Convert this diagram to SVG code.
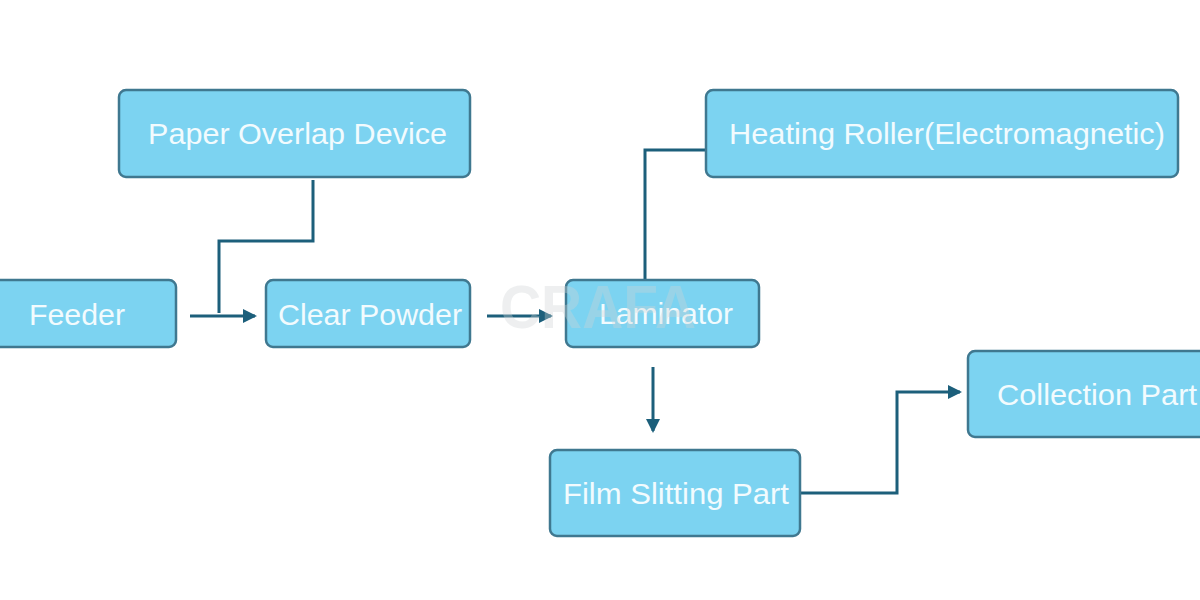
<svg xmlns="http://www.w3.org/2000/svg" width="1200" height="600" viewBox="0 0 1200 600">
<defs>
<style>
.box{fill:#7cd3f1;stroke:#3f7890;stroke-width:2.5}
.lbl{font-family:"Liberation Sans",Arial,sans-serif;font-size:29px;fill:#f2fbfe}
.con{fill:none;stroke:#1c5f7b;stroke-width:3}
</style>
<marker id="ah" markerWidth="14" markerHeight="16" refX="12" refY="8" orient="auto" markerUnits="userSpaceOnUse">
<path d="M0,1 L14,8 L0,15 Z" fill="#1c5f7b"/>
</marker>
</defs>
<rect width="1200" height="600" fill="#ffffff"/>
<g id="connectors">
<path class="con" d="M190,316 H255" marker-end="url(#ah)"/>
<path class="con" d="M313,180 V241 H219 V313"/>
<path class="con" d="M487,316 H551" marker-end="url(#ah)" stroke="#3a7c96"/>
<path class="con" d="M706,150 H645 V280"/>
<path class="con" d="M653,367 V431" marker-end="url(#ah)"/>
<path class="con" d="M800,493 H897 V392 H960" marker-end="url(#ah)"/>
</g>
<g id="paper-overlap">
<rect class="box" x="119" y="90" width="351" height="87" rx="7"/>
<text class="lbl" x="148" y="144" textLength="299" lengthAdjust="spacingAndGlyphs">Paper Overlap Device</text>
</g>
<g id="heating-roller">
<rect class="box" x="706" y="90" width="472" height="87" rx="7"/>
<text class="lbl" x="729" y="144" textLength="436" lengthAdjust="spacingAndGlyphs">Heating Roller(Electromagnetic)</text>
</g>
<g id="feeder">
<rect class="box" x="-10" y="280" width="186" height="67" rx="7"/>
<text class="lbl" x="29" y="325" textLength="96" lengthAdjust="spacingAndGlyphs">Feeder</text>
</g>
<g id="clear-powder">
<rect class="box" x="266" y="280" width="204" height="67" rx="7"/>
<text class="lbl" x="278" y="325" textLength="184" lengthAdjust="spacingAndGlyphs">Clear Powder</text>
</g>
<g id="laminator">
<rect class="box" x="566" y="280" width="193" height="67" rx="7"/>
<text class="lbl" x="599" y="324" textLength="134" lengthAdjust="spacingAndGlyphs">Laminator</text>
</g>
<g id="film-slitting">
<rect class="box" x="550" y="450" width="250" height="86" rx="7"/>
<text class="lbl" x="563" y="504" textLength="226" lengthAdjust="spacingAndGlyphs">Film Slitting Part</text>
</g>
<g id="collection">
<rect class="box" x="968" y="351" width="242" height="86" rx="7"/>
<text class="lbl" x="997" y="405" textLength="200" lengthAdjust="spacingAndGlyphs">Collection Part</text>
</g>
<text x="500" y="328" font-family="'Liberation Sans',Arial,sans-serif" font-weight="bold" font-size="62" fill="#cfd4d6" opacity="0.35" textLength="196" lengthAdjust="spacingAndGlyphs">CRAFA</text>
</svg>
